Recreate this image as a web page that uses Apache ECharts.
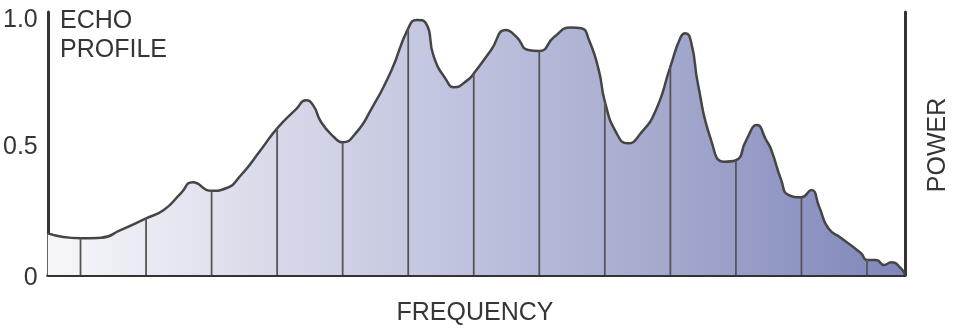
<!DOCTYPE html>
<html>
<head>
<meta charset="utf-8">
<script src="https://cdn.jsdelivr.net/npm/echarts@6/dist/echarts.min.js"></script>
<style>
html,body{margin:0;padding:0;background:#fff;}
#c{width:960px;height:328px;}
</style>
</head>
<body>
<div id="c"></div>
<script>
// Frequency positions (bin units) and echo power values
const frequency = [0, 0.5, 0.81, 1.11, 1.5, 1.77, 2.03, 2.21, 2.5, 2.72, 2.95, 3.25, 3.5, 3.79, 3.94, 4.05, 4.17, 4.37, 4.5, 4.7, 4.93, 5.24, 5.5, 5.63, 5.77, 5.89, 6.08, 6.2, 6.41, 6.5, 6.76, 6.99, 7.15, 7.33, 7.5, 7.73, 7.98, 8.14, 8.26, 8.41, 8.5, 8.67, 8.85, 9.05, 9.28, 9.5, 9.66, 9.73, 9.82, 9.92, 10.12, 10.32, 10.5, 10.66, 10.82, 10.96, 11.04, 11.19, 11.3, 11.5, 11.65, 11.77, 11.91, 12.11, 12.41, 12.5, 12.64, 12.76, 12.87, 13.02, 13.08];
const power = [0.163, 0.144, 0.146, 0.176, 0.222, 0.255, 0.32, 0.364, 0.33, 0.34, 0.392, 0.49, 0.575, 0.65, 0.685, 0.665, 0.60, 0.54, 0.52, 0.556, 0.647, 0.80, 0.967, 1.0, 0.987, 0.856, 0.765, 0.736, 0.765, 0.79, 0.88, 0.96, 0.934, 0.882, 0.878, 0.934, 0.97, 0.967, 0.92, 0.80, 0.68, 0.56, 0.516, 0.556, 0.647, 0.817, 0.934, 0.948, 0.909, 0.75, 0.53, 0.444, 0.45, 0.53, 0.588, 0.53, 0.49, 0.373, 0.314, 0.305, 0.333, 0.268, 0.183, 0.144, 0.085, 0.059, 0.059, 0.039, 0.05, 0.026, 0];
// Bin divider positions and their heights (where they meet the curve)
const dividerFreq = [0.5, 1.5, 2.5, 3.5, 4.5, 5.5, 6.5, 7.5, 8.5, 9.5, 10.5, 11.5, 12.5];
const dividerPower = [0.144, 0.222, 0.33, 0.575, 0.52, 0.967, 0.79, 0.878, 0.68, 0.817, 0.45, 0.305, 0.059];
const yTicks = [0, 0.5, 1.0];
const titleText = 'ECHO\nPROFILE';
const xName = 'FREQUENCY';
const yName = 'POWER';

const chart = echarts.init(document.getElementById('c'), null, {renderer: 'canvas'});
const curveData = frequency.map((f, i) => [f, power[i]]);
const dividerData = dividerFreq.map((f, i) => [f, dividerPower[i]]);
const FONT = 'Liberation Sans, Arial, Helvetica, sans-serif';
const TXT = '#353535';
const AX = '#333333';

chart.setOption({
  animation: false,
  backgroundColor: '#ffffff',
  grid: {left: 47, right: 55, top: 12, bottom: 53, containLabel: false},
  xAxis: {
    type: 'value', min: 0, max: 13.08,
    axisLine: {show: true, lineStyle: {color: AX, width: 3}},
    axisTick: {show: false}, axisLabel: {show: false}, splitLine: {show: false}
  },
  yAxis: [{
    type: 'value', min: 0, max: 1.031, interval: 0.5,
    axisLine: {show: true, lineStyle: {color: AX, width: 3}},
    axisTick: {show: false}, splitLine: {show: false},
    axisLabel: {
      show: true, margin: 10, fontSize: 25, color: TXT, fontFamily: FONT,
      showMaxLabel: false,
      formatter: function (v) {
        for (const t of yTicks) { if (Math.abs(v - t) < 1e-6) return t === 0 ? '{z|0}' : t.toFixed(1); }
        return '';
      },
      rich: {z: {fontSize: 25, color: TXT, fontFamily: FONT, padding: [6, 0, 0, 0]}}
    }
  }, {
    type: 'value', min: 0, max: 1.031, position: 'right',
    axisLine: {show: true, onZero: false, lineStyle: {color: AX, width: 3}},
    axisTick: {show: false}, axisLabel: {show: false}, splitLine: {show: false}
  }],
  series: [{
    type: 'line',
    data: curveData,
    smooth: 0.55,
    showSymbol: false,
    symbol: 'none',
    z: 3,
    lineStyle: {color: '#454545', width: 2.5},
    areaStyle: {
      opacity: 1,
      color: new echarts.graphic.LinearGradient(0, 0, 1, 0, [
        {offset: 0, color: '#f7f7fa'},
        {offset: 0.25, color: '#d9dbea'},
        {offset: 0.48, color: '#bfc3de'},
        {offset: 0.72, color: '#a4a9cd'},
        {offset: 1, color: '#7f86ba'}
      ])
    }
  }, {
    type: 'custom',
    z: 4,
    data: dividerData,
    renderItem: function (params, api) {
      const p0 = api.coord([api.value(0), 0]);
      const p1 = api.coord([api.value(0), api.value(1)]);
      return {
        type: 'line',
        shape: {x1: p0[0], y1: p0[1], x2: p1[0], y2: p1[1]},
        style: {stroke: '#555555', lineWidth: 1.8}
      };
    }
  }],
  graphic: [
    {type: 'text', left: 60, top: 7, style: {text: titleText, font: '25px ' + FONT, fill: TXT, lineHeight: 29}},
    {type: 'text', x: 475, y: 313, style: {text: xName, font: '25px ' + FONT, fill: TXT, textAlign: 'center', textVerticalAlign: 'middle'}},
    {type: 'text', x: 938, y: 145, rotation: Math.PI / 2, style: {text: yName, font: '25px ' + FONT, fill: TXT, textAlign: 'center', textVerticalAlign: 'middle'}}
  ]
});
</script>
</body>
</html>
